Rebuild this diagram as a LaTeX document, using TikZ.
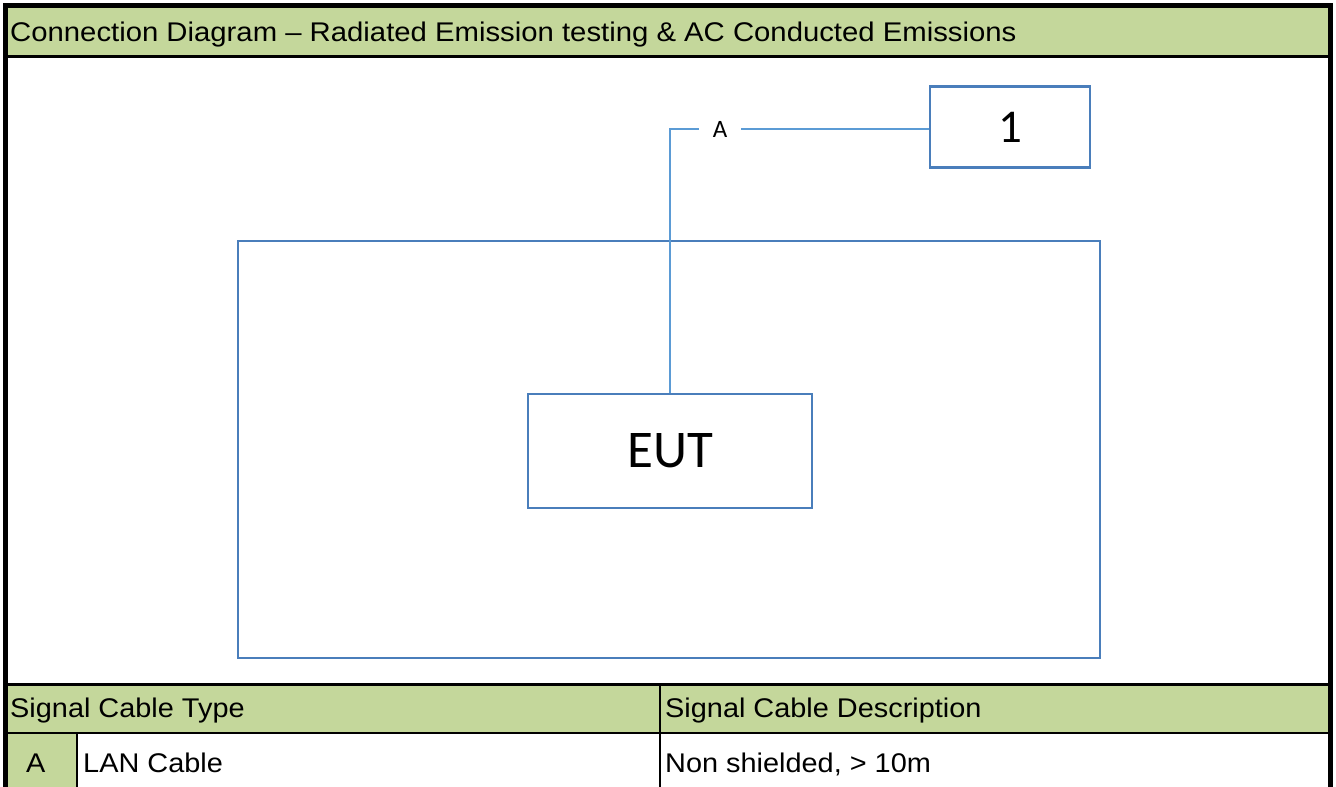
\documentclass[tikz,border=0pt]{standalone}
\usepackage{fontspec}
\setmainfont{Liberation Sans}
\newfontfamily\tabfont[FakeStretch=1.07]{Liberation Sans}
\newfontfamily\ttlfont[FakeStretch=1.085]{Liberation Sans}
\newfontfamily\calfont{Carlito}
\definecolor{hdrgreen}{HTML}{C4D79B}
\definecolor{boxblue}{HTML}{4A7EBB}
\definecolor{wireblue}{HTML}{5B9BD5}
\tikzset{
  blbox/.style={draw=boxblue, line width=2.5pt, fill=white, inner sep=0pt},
  wire/.style={draw=wireblue, line width=2pt},
  tabtext/.style={anchor=base west, inner sep=0pt, font=\tabfont\fontsize{27}{32}\selectfont},
  grid/.style={draw=black},
}
\begin{document}
\begin{tikzpicture}[x=1pt,y=-1pt]
\useasboundingbox (0,0) rectangle (1336,787);
\fill[white] (0,0) rectangle (1336,787);
% green fills
\fill[hdrgreen] (5,5) rectangle (1330,56);
\fill[hdrgreen] (5,684) rectangle (1330,733);
\fill[hdrgreen] (5,733) rectangle (77,787);
% table rules
\draw[grid, line width=5pt] (5,790) -- (5,5) -- (1330,5) -- (1330,790);
\draw[grid, line width=3pt] (5,56) -- (1330,56);
\draw[grid, line width=3pt] (5,684) -- (1330,684);
\draw[grid, line width=2pt] (5,733) -- (1330,733);
\draw[grid, line width=2pt] (660,684) -- (660,790);
\draw[grid, line width=2pt] (77,733) -- (77,790);
% texts
\node[tabtext, font=\ttlfont\fontsize{27}{32}\selectfont] (title) at (10,41.5) {Connection Diagram – Radiated Emission testing \& AC Conducted Emissions};
\node[tabtext] (h1) at (10,717) {Signal Cable Type};
\node[tabtext] (h2) at (665,717) {Signal Cable Description};
\node[tabtext] (ca) at (26,772) {A};
\node[tabtext] (c1) at (83,772) {LAN Cable};
\node[tabtext] (c2) at (665,772) {Non shielded, > 10m};
% diagram
\node[blbox, minimum width=862pt, minimum height=417pt] (room) at (669,449.5) {};
\node[blbox, minimum width=284pt, minimum height=114pt, font=\calfont\fontsize{53}{62}\selectfont] (eut) at (670,451) {EUT};
\node[blbox, minimum width=160pt, minimum height=81pt, font=\calfont\fontsize{47}{55}\selectfont] (one) at (1010,127) {1};
\node[inner xsep=14pt, inner ysep=0pt, font=\calfont\fontsize{25}{30}\selectfont] (lblA) at (720,129) {A};
\draw[wire] (eut.north) |- (lblA.west);
\draw[wire] (lblA.east) -- (one.west |- lblA.east);
\end{tikzpicture}
\end{document}
